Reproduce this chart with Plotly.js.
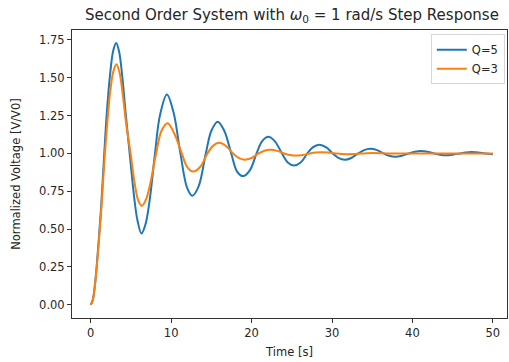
<!DOCTYPE html>
<html>
<head>
<meta charset="utf-8">
<script src="https://cdn.plot.ly/plotly-3.0.1.min.js"></script>
<style>html,body{margin:0;padding:0;background:#fff;}#chart{width:509px;height:362px;}</style>
</head>
<body>
<div id="chart"></div>
<script>
// Values (peaks, troughs, crossings of 1.0, rise points)
const timeQ5 = [0, 0.25, 0.5, 0.75, 1.0, 1.3, 1.68, 2.0, 2.4, 2.8, 3.16, 3.5, 3.9, 4.3, 4.84, 5.4, 5.8, 6.31, 6.8, 7.3, 7.99, 8.6, 9.47, 10.3, 11.15, 12.0, 12.63, 13.4, 14.31, 15.0, 15.79, 16.6, 17.47, 18.2, 18.94, 19.8, 20.62, 21.3, 22.10, 22.9, 23.78, 24.5, 25.26, 26.1, 26.94, 27.6, 28.41, 29.3, 30.09, 30.8, 31.57, 32.4, 33.25, 34.0, 34.73, 35.6, 36.41, 37.1, 37.89, 38.7, 39.57, 40.3, 41.04, 41.9, 42.72, 43.4, 44.20, 45.0, 45.88, 46.6, 47.36, 48.2, 49.04, 50];
const voltQ5 = [0, 0.03, 0.12, 0.26, 0.43, 0.65, 1.00, 1.27, 1.52, 1.68, 1.73, 1.68, 1.52, 1.29, 1.00, 0.71, 0.56, 0.47, 0.53, 0.68, 1.00, 1.25, 1.39, 1.27, 1.00, 0.77, 0.72, 0.78, 1.00, 1.15, 1.21, 1.15, 1.00, 0.88, 0.85, 0.89, 1.00, 1.08, 1.11, 1.08, 1.00, 0.94, 0.92, 0.94, 1.00, 1.04, 1.058, 1.04, 1.00, 0.97, 0.958, 0.97, 1.00, 1.022, 1.031, 1.022, 1.00, 0.985, 0.978, 0.985, 1.00, 1.011, 1.016, 1.011, 1.00, 0.992, 0.988, 0.992, 1.00, 1.006, 1.009, 1.006, 1.00, 0.995];
const timeQ3 = [0, 0.25, 0.5, 0.75, 1.0, 1.3, 1.76, 2.1, 2.4, 2.8, 3.19, 3.6, 4.0, 4.4, 4.95, 5.5, 5.9, 6.37, 6.9, 7.4, 8.13, 8.8, 9.56, 10.4, 11.32, 12.0, 12.74, 13.6, 14.51, 15.2, 15.93, 16.8, 17.69, 18.4, 19.12, 20.0, 20.88, 21.6, 22.30, 23.2, 24.06, 24.8, 25.49, 26.4, 27.25, 28.0, 28.67, 29.5, 30.44, 31.2, 31.86, 32.7, 33.62, 34.3, 35.05, 36.0, 36.81, 38.0, 40.0, 43.0, 46.0, 50];
const voltQ3 = [0, 0.03, 0.12, 0.25, 0.41, 0.62, 1.00, 1.23, 1.40, 1.54, 1.59, 1.53, 1.38, 1.20, 1.00, 0.79, 0.69, 0.654, 0.70, 0.80, 1.00, 1.15, 1.20, 1.13, 1.00, 0.91, 0.88, 0.91, 1.00, 1.05, 1.07, 1.05, 1.00, 0.97, 0.959, 0.97, 1.00, 1.018, 1.024, 1.017, 1.00, 0.99, 0.986, 0.99, 1.00, 1.006, 1.008, 1.006, 1.00, 0.996, 0.995, 0.996, 1.00, 1.002, 1.003, 1.002, 1.00, 0.999, 1.00, 1.00, 1.00, 1.00];
const seriesNames = ["Q=5", "Q=3"];
const xTicks = [0, 10, 20, 30, 40, 50];
const yTicks = [0, 0.25, 0.5, 0.75, 1.0, 1.25, 1.5, 1.75];

const font = {family: "DejaVu Sans", size: 11.5, color: "#262626"};
const traces = [
  {x: timeQ5, y: voltQ5, name: seriesNames[0], mode: "lines", line: {color: "#1f77b4", width: 2, shape: "spline", smoothing: 1}},
  {x: timeQ3, y: voltQ3, name: seriesNames[1], mode: "lines", line: {color: "#ff7f0e", width: 2, shape: "spline", smoothing: 1}}
];
const axisCommon = {
  showgrid: false, zeroline: false, showline: true, mirror: true,
  linecolor: "#333", linewidth: 1, ticks: "outside", ticklen: 4, tickcolor: "#333", tickwidth: 1,
  tickfont: font
};
const layout = {
  width: 509, height: 362,
  margin: {l: 72, r: 2, t: 30, b: 44},
  paper_bgcolor: "#fff", plot_bgcolor: "#fff",
  font: font,
  title: {text: "Second Order System with <i>ω</i><sub>0</sub> = 1 rad/s Step Response", font: {family: "DejaVu Sans", size: 15, color: "#262626"}, x: 292/509, xref: "container", xanchor: "center", y: 1 - 15/362, yref: "container", yanchor: "middle"},
  xaxis: Object.assign({}, axisCommon, {range: [-2.33, 51.76], tickvals: xTicks, ticktext: xTicks.map(String),
    title: {text: "Time [s]", font: font, standoff: 9}}),
  yaxis: Object.assign({}, axisCommon, {range: [-0.088, 1.816], tickvals: yTicks, ticktext: yTicks.map(v => v.toFixed(2)),
    title: {text: "Normalized Voltage [V/V0]", font: font, standoff: 16}}),
  showlegend: true,
  legend: {x: 0.995, xanchor: "right", y: 0.985, yanchor: "top", bgcolor: "rgba(255,255,255,0.8)", bordercolor: "#d6d6d6", borderwidth: 1, font: {family: "DejaVu Sans", size: 11.5, color: "#262626"}, tracegroupgap: 0}
};
Plotly.newPlot("chart", traces, layout, {staticPlot: true, displayModeBar: false});
</script>
</body>
</html>
